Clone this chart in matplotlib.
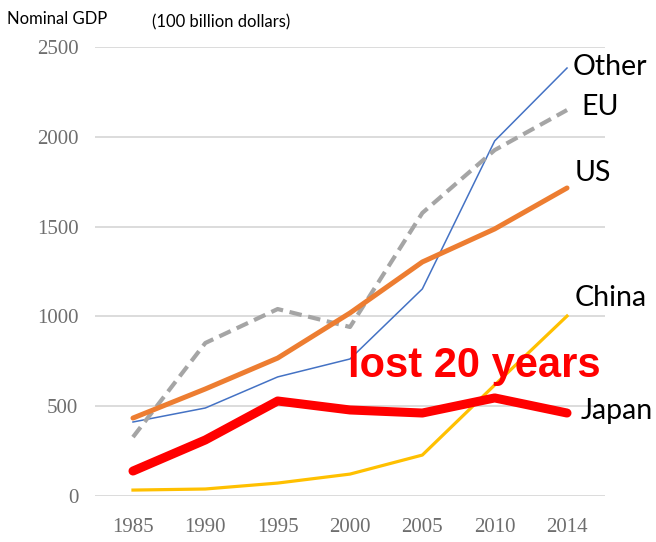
import matplotlib
matplotlib.use("Agg")
import matplotlib.pyplot as plt

years = ["1985", "1990", "1995", "2000", "2005", "2010", "2014"]
japan = [139, 312, 529, 479, 462, 546, 462]
china = [33, 39, 72, 122, 228, 618, 1002]
us = [434, 596, 768, 1019, 1303, 1487, 1715]
eu = [328, 852, 1041, 941, 1576, 1926, 2149]
other = [412, 490, 663, 763, 1153, 1977, 2383]
yticks = [0, 500, 1000, 1500, 2000, 2500]

fig = plt.figure(figsize=(6.56, 5.42), dpi=100)
ax = fig.add_axes([95/656, 46/542, 510/656, 449/542])
x = list(range(len(years)))

for v in yticks:
    ax.axhline(v, color="#d9d9d9", lw=1.3, zorder=0)

ax.plot(x, other, color="#4472C4", lw=1.1, zorder=3)
ax.plot(x, eu, color="#A5A5A5", lw=3.0, dashes=(3, 1.6), zorder=3)
ax.plot(x, us, color="#ED7D31", lw=3.6, zorder=3, solid_capstyle="round")
ax.plot(x, china, color="#FFC000", lw=2.3, zorder=3)
ax.plot(x, japan, color="#FF0000", lw=6.5, zorder=4, solid_capstyle="round")

ax.set_xlim(-0.525, 6.525)
ax.set_ylim(0, 2500)
ax.set_xticks(x)
ax.set_xticklabels(years)
ax.set_yticks(yticks)
for s in ax.spines.values():
    s.set_visible(False)
ax.tick_params(length=0, labelsize=15, colors="#6e6e6e")
ax.tick_params(axis="x", pad=16)
ax.tick_params(axis="y", pad=12)
for lab in ax.get_xticklabels() + ax.get_yticklabels():
    lab.set_fontfamily("Liberation Serif")

lbl = dict(family="Lato", fontsize=20.5, color="black", va="center", ha="left")
fig.text(573/656, 1 - 67/542, "Other", **lbl)
fig.text(581/656, 1 - 107/542, "EU", **lbl)
fig.text(575/656, 1 - 173/542, "US", **lbl)
fig.text(575/656, 1 - 298/542, "China", **lbl)
fig.text(581/656, 1 - 411/542, "Japan", **lbl)

fig.text(474/656, 1 - 366/542, "lost 20 years", family="Liberation Sans",
         fontweight="bold", fontsize=30, color="#FF0000", ha="center", va="center", zorder=10)

fig.text(7/656, 1 - 19/542, "Nominal GDP", family="Lato", fontsize=12, va="center", ha="left")
fig.text(152/656, 1 - 22/542, "(100 billion dollars)", family="Lato", fontsize=12, va="center", ha="left")

fig.savefig("out.png", dpi=100)
